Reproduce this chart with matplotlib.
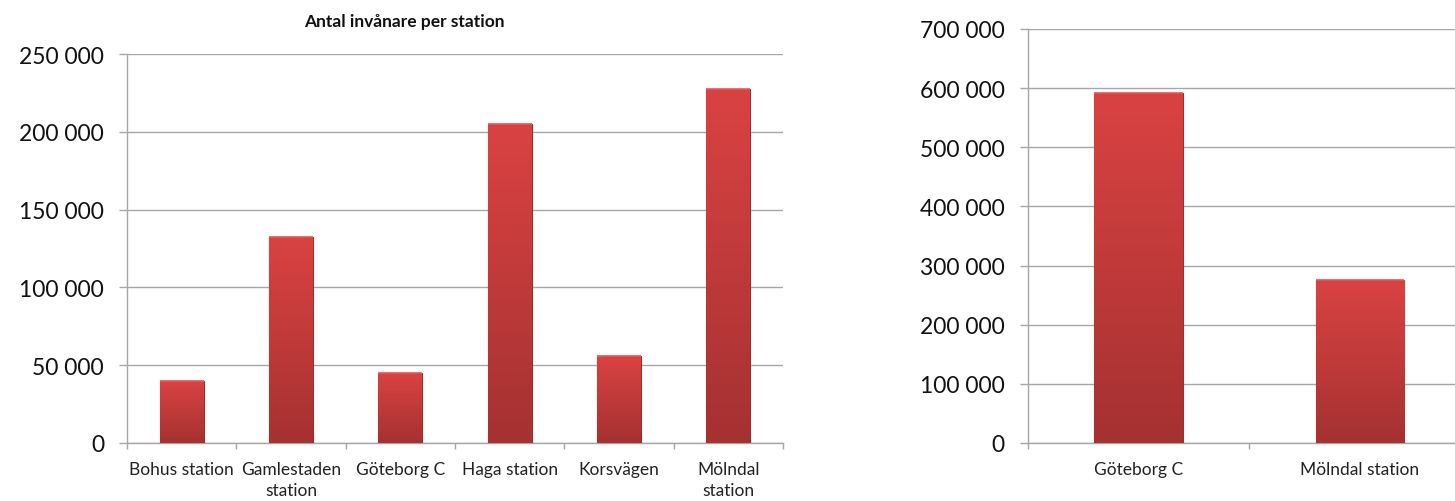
import matplotlib
matplotlib.use("Agg")
import matplotlib.pyplot as plt
import numpy as np
from matplotlib.ticker import FuncFormatter, FixedLocator
from matplotlib.colors import LinearSegmentedColormap

# ---- data ----
left_title = "Antal invånare per station"
left_categories = ["Bohus station", "Gamlestaden\nstation", "Göteborg C",
                   "Haga station", "Korsvägen", "Mölndal\nstation"]
left_values = [40000, 132500, 45000, 205000, 56000, 227500]
left_yticks = [0, 50000, 100000, 150000, 200000, 250000]

right_categories = ["Göteborg C", "Mölndal station"]
right_values = [592000, 276000]
right_yticks = [0, 100000, 200000, 300000, 400000, 500000, 600000, 700000]

FONT = ["Lato", "DejaVu Sans"]
plt.rcParams['font.family'] = FONT

GRID = "#a6a6a6"
cmap = LinearSegmentedColormap.from_list("bar", ["#a53131", "#c03a3a", "#da4242"])


def fmt(v, pos=None):
    return f"{int(v):,}".replace(",", " ")


def gradient_bars(ax, xs, vals, width):
    bars = ax.bar(xs, vals, width=width, color="#c23a3a", edgecolor="#9e2e2e",
                  linewidth=0.8, zorder=3)
    grad = np.linspace(0, 1, 256).reshape(-1, 1)
    for b in bars:
        x0, y0 = b.get_x(), b.get_y()
        w, h = b.get_width(), b.get_height()
        im = ax.imshow(grad, cmap=cmap, origin="lower", aspect="auto",
                       extent=(x0, x0 + w, y0, y0 + h), zorder=3.5,
                       interpolation="bicubic")
        im.set_clip_path(b)
        ax.plot([x0, x0 + w], [y0 + h, y0 + h], color="#e05a5a", lw=1.2,
                zorder=4, solid_capstyle="butt")
    return bars


def style_axes(ax, ncat, ylim, yticks, labels, label_size):
    ax.set_ylim(*ylim)
    ax.set_xlim(-0.5, ncat - 0.5)
    ax.yaxis.set_major_locator(FixedLocator(yticks))
    ax.yaxis.set_major_formatter(FuncFormatter(fmt))
    ax.grid(axis="y", color=GRID, linewidth=1.0, zorder=0)
    ax.set_axisbelow(True)
    for s in ["top", "right"]:
        ax.spines[s].set_visible(False)
    ax.spines["left"].set_color(GRID)
    ax.spines["bottom"].set_color(GRID)
    ax.spines["left"].set_linewidth(1.0)
    ax.spines["bottom"].set_linewidth(1.0)
    ax.tick_params(axis="y", length=5.5, color=GRID, width=1.0, pad=11,
                   labelsize=16.5, labelcolor="#111111")
    # category boundary ticks as major ticks, labels as minor ticks
    ax.xaxis.set_major_locator(FixedLocator(np.arange(-0.5, ncat, 1.0)))
    ax.xaxis.set_major_formatter(FuncFormatter(lambda v, p: ""))
    ax.xaxis.set_minor_locator(FixedLocator(np.arange(ncat)))
    ax.set_xticklabels(labels, minor=True)
    ax.tick_params(axis="x", which="major", length=4.5, color=GRID, width=1.0)
    ax.tick_params(axis="x", which="minor", length=0, pad=13,
                   labelsize=label_size, labelcolor="#222222")
    for t in ax.get_xticklabels(minor=True):
        t.set_linespacing(1.4)


fig = plt.figure(figsize=(14.55, 5.02), dpi=100)

# left chart
ax1 = fig.add_axes([127 / 1455, 58 / 502, 656 / 1455, 389 / 502])
gradient_bars(ax1, np.arange(len(left_values)), left_values, 0.40)
style_axes(ax1, len(left_categories), (0, 250000), left_yticks,
           left_categories, 12.5)
fig.text(404 / 1455, 1 - 22 / 502, left_title, ha="center", va="center",
         fontsize=12.5, fontweight="bold", color="#111111")

# right chart (cropped at the right edge)
ax2 = fig.add_axes([1027.7 / 1455, 58 / 502, 442.9 / 1455, 414 / 502])
gradient_bars(ax2, np.arange(len(right_values)), right_values, 0.40)
style_axes(ax2, 2, (0, 700000), right_yticks, right_categories, 12.5)

fig.savefig("out.png", dpi=100)
